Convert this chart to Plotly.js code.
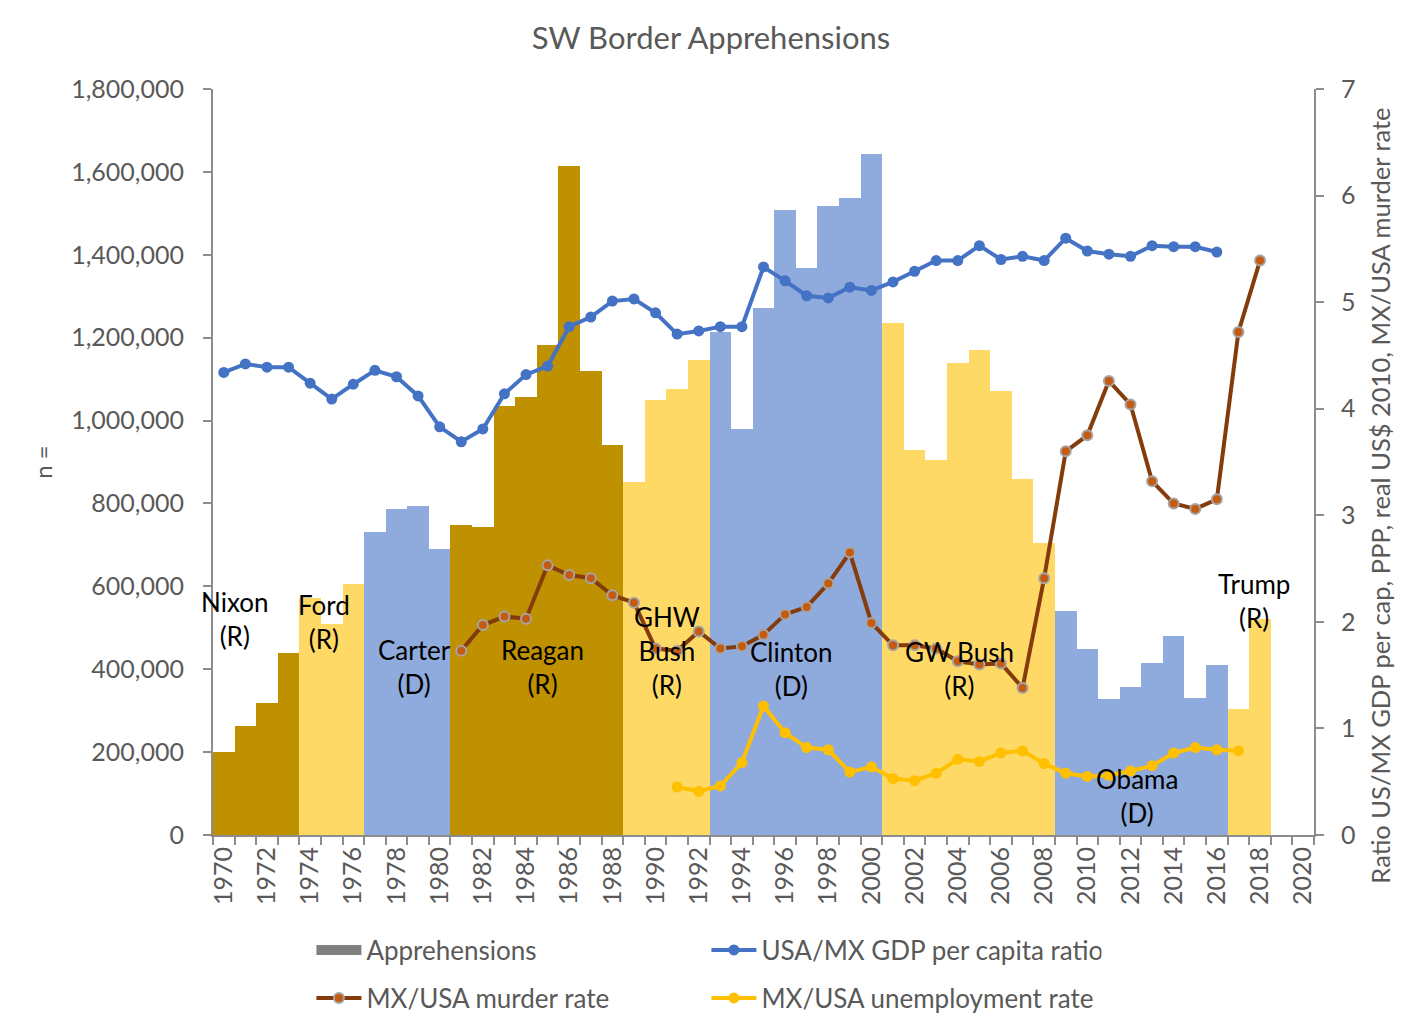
<!DOCTYPE html>
<html>
<head>
<meta charset="utf-8">
<script src="https://cdn.plot.ly/plotly-3.0.1.min.js"></script>
<style>
  html, body { margin: 0; padding: 0; background: #fff; }
  #chart { width: 1422px; height: 1031px; }
</style>
</head>
<body>
<div id="chart"></div>
<script>
// apprehensions per fiscal year, SW border
var years = [1970,1971,1972,1973,1974,1975,1976,1977,1978,1979,
             1980,1981,1982,1983,1984,1985,1986,1987,1988,1989,
             1990,1991,1992,1993,1994,1995,1996,1997,1998,1999,
             2000,2001,2002,2003,2004,2005,2006,2007,2008,2009,
             2010,2011,2012,2013,2014,2015,2016,2017,2018];
var apprehensions = [201000,263000,319000,440000,572000,510000,606000,731000,786000,794000,
                     690000,748000,743000,1034000,1057000,1183000,1615000,1120000,942000,852000,
                     1049000,1077000,1146000,1213000,979000,1271000,1507000,1369000,1517000,1537000,
                     1644000,1236000,930000,905000,1139000,1171000,1072000,858000,705000,541000,
                     448000,328000,357000,414000,479000,331000,409000,304000,521000];

// USA/MX GDP per capita ratio
var gdpYears = [1970,1971,1972,1973,1974,1975,1976,1977,1978,1979,
                1980,1981,1982,1983,1984,1985,1986,1987,1988,1989,
                1990,1991,1992,1993,1994,1995,1996,1997,1998,1999,
                2000,2001,2002,2003,2004,2005,2006,2007,2008,2009,
                2010,2011,2012,2013,2014,2015,2016];
var gdpRatio = [4.34,4.42,4.39,4.39,4.24,4.09,4.23,4.36,4.30,4.12,
                3.83,3.69,3.81,4.14,4.32,4.40,4.77,4.86,5.01,5.03,
                4.90,4.70,4.73,4.77,4.77,5.33,5.20,5.06,5.04,5.14,
                5.11,5.19,5.29,5.39,5.39,5.53,5.40,5.43,5.39,5.60,
                5.48,5.45,5.43,5.53,5.52,5.52,5.47];

// MX/USA murder rate
var murderYears = [1981,1982,1983,1984,1985,1986,1987,1988,1989,1990,
                   1991,1992,1993,1994,1995,1996,1997,1998,1999,2000,
                   2001,2002,2003,2004,2005,2006,2007,2008,2009,2010,
                   2011,2012,2013,2014,2015,2016,2017,2018];
var murderRatio = [1.73,1.97,2.05,2.03,2.53,2.44,2.41,2.25,2.18,1.75,
                   1.73,1.91,1.75,1.77,1.88,2.07,2.14,2.36,2.65,1.99,
                   1.78,1.78,1.75,1.63,1.60,1.61,1.38,2.41,3.60,3.75,
                   4.26,4.04,3.32,3.11,3.06,3.15,4.72,5.39];

// MX/USA unemployment rate
var unempYears = [1991,1992,1993,1994,1995,1996,1997,1998,1999,2000,
                  2001,2002,2003,2004,2005,2006,2007,2008,2009,2010,
                  2011,2012,2013,2014,2015,2016,2017];
var unempRatio = [0.45,0.41,0.46,0.68,1.21,0.96,0.82,0.80,0.59,0.64,
                  0.53,0.51,0.58,0.71,0.69,0.77,0.79,0.67,0.58,0.55,
                  0.56,0.60,0.65,0.77,0.82,0.80,0.79];

// presidencies
var presidents = ['Nixon','Ford','Carter','Reagan','GHW<br>Bush','Clinton','GW Bush','Obama','Trump'];
var parties    = ['R','R','D','R','R','D','R','D','R'];
var termStart  = [1970,1974,1977,1981,1989,1993,2001,2009,2017];
var termColor  = ['#BF9000','#FFD966','#8FAADC','#BF9000','#FFD966','#8FAADC','#FFD966','#8FAADC','#FFD966'];
var labelX     = [1970.5,1974.65,1978.85,1984.75,1990.55,1996.3,2004.1,2012.3,2017.7];
var labelY     = [520000,515000,405000,405000,445000,400000,400000,95000,565000];

var rightTitle = 'Ratio US/MX GDP per cap, PPP, real US$ 2010, MX/USA murder rate';

function colorForYear(yr) {
    var c = termColor[0];
    for (var i = 0; i < termStart.length; i++) {
        if (yr >= termStart[i]) c = termColor[i];
    }
    return c;
}

var FONT = 'Lato, "Open Sans", sans-serif';
var GREY = '#595959';
var AXIS = '#8c8c8c';

var bars = {
    x: years,
    y: apprehensions,
    type: 'bar',
    width: 1,
    marker: {color: years.map(colorForYear), line: {width: 0}},
    showlegend: false,
    hoverinfo: 'skip'
};
// legend-only entry, drawn as a thick grey line so the swatch is a wide block
var barLegend = {
    x: [null], y: [null], type: 'scatter', mode: 'lines', name: 'Apprehensions',
    line: {color: '#808080', width: 20}, legend: 'legend'
};
var gdp = {
    x: gdpYears, y: gdpRatio, yaxis: 'y2', type: 'scatter', mode: 'lines+markers',
    name: 'USA/MX GDP per capita ratio', legend: 'legend',
    line: {color: '#4472C4', width: 4},
    marker: {color: '#4472C4', size: 11}
};
var murder = {
    x: murderYears, y: murderRatio, yaxis: 'y2', type: 'scatter', mode: 'lines+markers',
    name: 'MX/USA murder rate', legend: 'legend2',
    line: {color: '#843C0C', width: 4},
    marker: {color: '#C55A11', size: 10, line: {color: '#A5A5A5', width: 2}}
};
var unemp = {
    x: unempYears, y: unempRatio, yaxis: 'y2', type: 'scatter', mode: 'lines+markers',
    name: 'MX/USA unemployment rate', legend: 'legend2',
    line: {color: '#FFC000', width: 4},
    marker: {color: '#FFC000', size: 11}
};

var annotations = presidents.map(function (p, i) {
    return {
        x: labelX[i], y: labelY[i], xref: 'x', yref: 'y',
        text: p + '<br>(' + parties[i] + ')',
        showarrow: false,
        font: {family: FONT, size: 26, color: '#000'}
    };
});
// right axis title, placed like the original (a little below centre)
annotations.push({
    x: 1.06, y: 0.455, xref: 'paper', yref: 'paper',
    xanchor: 'center', yanchor: 'middle',
    text: rightTitle, textangle: -90, showarrow: false,
    font: {family: FONT, size: 25.5, color: GREY}
});

var legendCommon = {
    orientation: 'h',
    xref: 'container', yref: 'container',
    xanchor: 'left', yanchor: 'middle',
    x: 0.219,
    font: {family: FONT, size: 26, color: GREY},
    itemwidth: 45,
    entrywidth: 335,
    bgcolor: 'rgba(0,0,0,0)'
};

var layout = {
    width: 1422, height: 1031,
    paper_bgcolor: '#fff', plot_bgcolor: '#fff',
    margin: {l: 213, r: 108, t: 89, b: 196},
    font: {family: FONT, color: GREY},
    title: {
        text: 'SW Border Apprehensions',
        font: {family: FONT, size: 31, color: GREY},
        x: 0.5, xanchor: 'center', y: 0.963, yanchor: 'middle'
    },
    bargap: 0,
    hovermode: false,
    xaxis: {
        range: [1969.5, 2020.5],
        tickmode: 'array',
        tickvals: [1970,1972,1974,1976,1978,1980,1982,1984,1986,1988,1990,1992,1994,1996,
                   1998,2000,2002,2004,2006,2008,2010,2012,2014,2016,2018,2020],
        ticktext: ['1970','1972','1974','1976','1978','1980','1982','1984','1986','1988','1990','1992','1994','1996',
                   '1998','2000','2002','2004','2006','2008','2010','2012','2014','2016','2018','2020'],
        tickangle: -90,
        ticks: '',
        tickfont: {family: FONT, size: 25, color: GREY},
        minor: {tickmode: 'linear', tick0: 1969.5, dtick: 1, ticks: 'outside', ticklen: 8,
                tickcolor: AXIS, tickwidth: 2, showgrid: false},
        showline: true, linecolor: AXIS, linewidth: 2,
        showgrid: false, zeroline: false
    },
    yaxis: {
        range: [0, 1800000],
        dtick: 200000,
        tickformat: ',d',
        ticks: 'outside', ticklen: 8, tickcolor: AXIS, tickwidth: 2,
        ticklabelstandoff: 14,
        tickfont: {family: FONT, size: 25, color: GREY},
        showline: true, linecolor: AXIS, linewidth: 2,
        showgrid: false, zeroline: false,
        title: {text: 'n =', font: {family: FONT, size: 24, color: GREY}, standoff: 12}
    },
    yaxis2: {
        overlaying: 'y', side: 'right',
        range: [0, 7], dtick: 1,
        ticks: 'outside', ticklen: 8, tickcolor: AXIS, tickwidth: 2,
        ticklabelstandoff: 12,
        tickfont: {family: FONT, size: 25, color: GREY},
        showline: true, linecolor: AXIS, linewidth: 2,
        showgrid: false, zeroline: false
    },
    legend: Object.assign({}, legendCommon, {y: 1 - 950 / 1031}),
    legend2: Object.assign({}, legendCommon, {y: 1 - 998 / 1031}),
    annotations: annotations
};

Plotly.newPlot('chart', [bars, barLegend, gdp, murder, unemp], layout, {displayModeBar: false, staticPlot: true});
</script>
</body>
</html>
